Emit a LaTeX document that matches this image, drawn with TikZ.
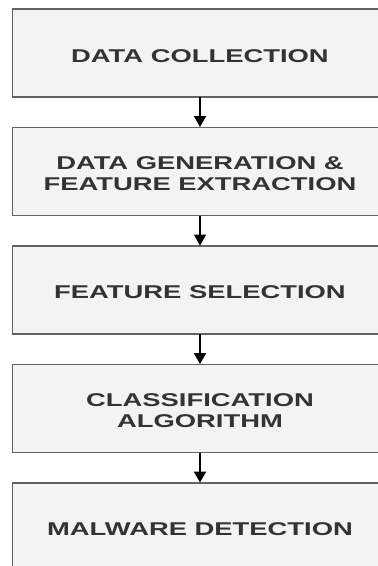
\documentclass[tikz,border=0pt]{standalone}
\usepackage{fontspec}
\usetikzlibrary{arrows.meta}
\newfontfamily\stagefont[FakeStretch=1.48]{Liberation Sans}
\definecolor{boxfill}{HTML}{F3F3F3}
\definecolor{boxline}{HTML}{626262}
\definecolor{boxtext}{HTML}{333333}
\begin{document}
\begin{tikzpicture}[x=1pt,y=-1pt,
  stagebox/.style={draw=boxline, line width=1.8pt, fill=boxfill,
    minimum width=375pt, minimum height=88pt, inner sep=0pt, outer sep=0pt},
  stagelabel/.style={text=boxtext, align=center, inner sep=0pt,
    font=\stagefont\bfseries\fontsize{18.5}{21}\selectfont},
  flow/.style={draw=black, line width=1.8pt,
    -{Triangle[width=12pt,length=11pt]}, shorten >=0.5pt}
]
\useasboundingbox (0,0) rectangle (378,566);
% five stages, one below the other
\node[stagebox] (s1) at (200,53)    {};
\node[stagebox] (s2) at (200,171.5) {};
\node[stagebox] (s3) at (200,290)   {};
\node[stagebox] (s4) at (200,408.5) {};
\node[stagebox] (s5) at (200,527)   {};
% labels
\node[stagelabel] (t1) at ([yshift=-3pt]s1.center) {DATA COLLECTION};
\node[stagelabel] (t2) at ([yshift=-2pt]s2.center) {DATA GENERATION \&\\FEATURE EXTRACTION};
\node[stagelabel] (t3) at ([yshift=-2pt]s3.center) {FEATURE SELECTION};
\node[stagelabel] (t4) at ([yshift=-2pt]s4.center) {CLASSIFICATION\\ALGORITHM};
\node[stagelabel] (t5) at ([yshift=-2pt]s5.center) {MALWARE DETECTION};
% arrows between stages
\draw[flow] (s1.south) -- (s2.north);
\draw[flow] (s2.south) -- (s3.north);
\draw[flow] (s3.south) -- (s4.north);
\draw[flow] (s4.south) -- (s5.north);
\end{tikzpicture}
\end{document}
